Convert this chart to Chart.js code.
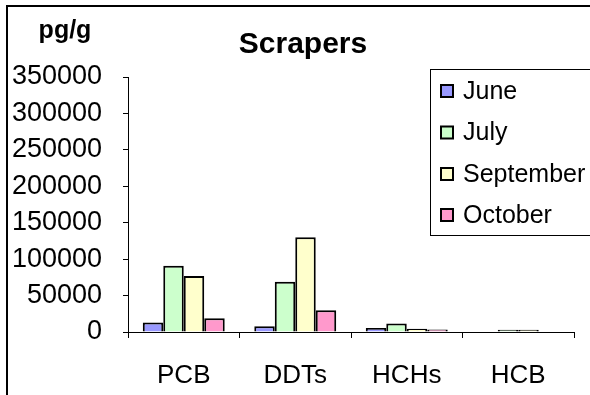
<!DOCTYPE html>
<html>
<head>
<meta charset="utf-8">
<title>Scrapers</title>
<script src="https://cdn.jsdelivr.net/npm/chart.js@4/dist/chart.umd.min.js"></script>
<style>
  html, body { margin: 0; padding: 0; background: #ffffff; }
  #wrap { width: 590px; height: 395px; }
</style>
</head>
<body>
<div id="wrap"><canvas id="chart" width="590" height="395"></canvas></div>
<script>
// Compound groups on the x axis
const categories = ['PCB', 'DDTs', 'HCHs', 'HCB'];

// Sampling months and their concentrations (pg/g)
const months = ['June', 'July', 'September', 'October'];
const juneValues      = [13000,   8000,  5500,    0];
const julyValues      = [91000,  69000, 11500, 3000];
const septemberValues = [77000, 130000,  4500, 3000];
const octoberValues   = [19000,  30000,  3500,    0];

const monthColors = ['#9999FF', '#CCFFCC', '#FFFFCC', '#FF99CC'];

// Value axis ticks
const yTicks = [0, 50000, 100000, 150000, 200000, 250000, 300000, 350000];

const FONT = "'Liberation Sans', Arial, sans-serif";

const seriesValues = [juneValues, julyValues, septemberValues, octoberValues];
const datasets = months.map((m, i) => ({
  label: m,
  data: seriesValues[i],
  backgroundColor: monthColors[i],
  borderColor: '#000000',
  borderWidth: 2,
  borderSkipped: 'bottom',
  categoryPercentage: 0.735,
  barPercentage: 1.0
}));

// White page, outer frame, unit label, title and boxed legend
const decorations = {
  id: 'decorations',
  beforeDraw(chart) {
    const ctx = chart.ctx;
    ctx.save();
    ctx.fillStyle = '#ffffff';
    ctx.fillRect(0, 0, chart.width, chart.height);
    ctx.restore();
  },
  afterDraw(chart) {
    const ctx = chart.ctx;
    ctx.save();
    // frame
    ctx.strokeStyle = '#000000';
    ctx.lineWidth = 2;
    ctx.strokeRect(7, 6, 800, 800);

    // unit label
    ctx.fillStyle = '#000000';
    ctx.font = 'bold 25px ' + FONT;
    ctx.textAlign = 'center';
    ctx.textBaseline = 'alphabetic';
    ctx.fillText('pg/g', 65, 38);

    // title
    ctx.font = 'bold 30px ' + FONT;
    ctx.fillText('Scrapers', 303, 53);

    // legend box
    const lx = 430.5, ly = 69.5, lh = 166;
    ctx.fillStyle = '#ffffff';
    ctx.fillRect(lx, ly, 300, lh);
    ctx.lineWidth = 1;
    ctx.strokeStyle = '#000000';
    ctx.strokeRect(lx, ly, 300, lh);

    const rowY = [91, 132.5, 174, 215];
    ctx.font = '25px ' + FONT;
    ctx.textAlign = 'left';
    ctx.textBaseline = 'middle';
    chart.data.datasets.forEach((ds, i) => {
      const y = rowY[i];
      ctx.fillStyle = ds.backgroundColor;
      ctx.fillRect(441, y - 6, 12, 12);
      ctx.lineWidth = 2;
      ctx.strokeStyle = '#000000';
      ctx.strokeRect(441, y - 6, 12, 12);
      ctx.fillStyle = '#000000';
      ctx.fillText(ds.label, 463, y + 1);
    });
    ctx.restore();
  }
};

new Chart(document.getElementById('chart'), {
  type: 'bar',
  data: { labels: categories, datasets },
  options: {
    responsive: false,
    animation: false,
    events: [],
    layout: { padding: { top: 77, right: 16, bottom: 0, left: 0 } },
    plugins: {
      legend: { display: false },
      title: { display: false },
      tooltip: { enabled: false }
    },
    scales: {
      x: {
        grid: {
          display: true,
          drawOnChartArea: false,
          drawTicks: true,
          tickLength: 6,
          color: '#000000',
          offset: true
        },
        border: { display: true, color: '#000000', width: 1 },
        ticks: {
          color: '#000000',
          font: { family: FONT, size: 26 },
          padding: 22,
          maxRotation: 0
        },
        afterFit(scale) { scale.height = 63; }
      },
      y: {
        min: 0,
        max: 350000,
        afterBuildTicks(scale) { scale.ticks = yTicks.map(v => ({ value: v })); },
        grid: {
          display: true,
          drawOnChartArea: false,
          drawTicks: true,
          tickLength: 5,
          color: '#000000'
        },
        border: { display: true, color: '#000000', width: 1 },
        ticks: {
          color: '#000000',
          font: { family: FONT, size: 27 },
          padding: 21,
          callback: v => String(v)
        },
        afterFit(scale) { scale.width = 128; }
      }
    }
  },
  plugins: [decorations]
});
</script>
</body>
</html>
